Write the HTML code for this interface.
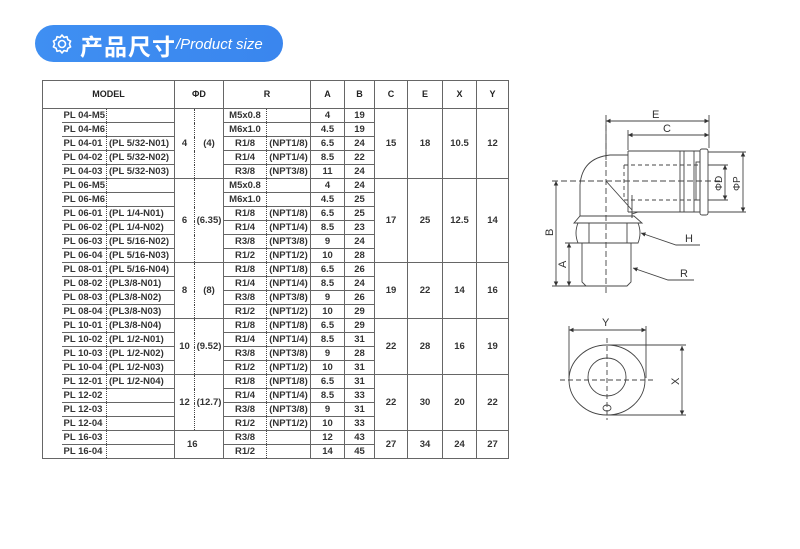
<!DOCTYPE html>
<html><head><meta charset="utf-8"><style>
body{margin:0;width:800px;height:549px;background:#fff;position:relative;overflow:hidden;font-family:"Liberation Sans","Noto Sans CJK SC",sans-serif}
.pill{position:absolute;left:35px;top:25px;width:248px;height:37px;border-radius:19px;background:linear-gradient(90deg,#3f8ff2,#3a86ee);color:#fff}
.pill .cn{position:absolute;left:45px;top:3px;font-size:23px;font-weight:bold;font-family:"Noto Sans CJK SC",sans-serif;letter-spacing:1px}
.pill .en{position:absolute;left:141px;top:11px;font-size:15px;font-style:italic}
table{position:absolute;left:42px;top:80px;border-collapse:collapse;table-layout:fixed;font-size:9.5px;font-weight:bold;color:#333}
td{height:13px;padding:0;border:1px solid #666;text-align:center;white-space:nowrap;line-height:13px;overflow:hidden}
tr.h td{height:27px;font-size:9px;color:#222}
.l{text-align:left;padding-left:2px}
.dr{border-right:1px dotted #444}
.dl{border-left:1px dotted #444}
.m1{border-left:none}
.blank{border-top:none;border-bottom:1px solid #666;border-right:none}
</style></head><body>
<div class="pill">
<svg style="position:absolute;left:16px;top:8px" width="22" height="22" viewBox="0 0 22 22"><path d="M11 2l2 2.5 3-.8.8 3 2.8 1.4-1.2 2.9 1.2 2.9-2.8 1.4-.8 3-3-.8L11 20l-2-2.5-3 .8-.8-3-2.8-1.4 1.2-2.9-1.2-2.9 2.8-1.4.8-3 3 .8z" fill="none" stroke="#fff" stroke-width="1.6" stroke-linejoin="round"/><circle cx="11" cy="11" r="3.5" fill="none" stroke="#fff" stroke-width="1.6"/></svg>
<span class="cn">产品尺寸</span><span class="en">/Product size</span></div>

<table>
<colgroup><col style="width:19px"><col style="width:45px"><col style="width:68px"><col style="width:20px"><col style="width:29px"><col style="width:43px"><col style="width:44px"><col style="width:34px"><col style="width:30px"><col style="width:33px"><col style="width:35px"><col style="width:34px"><col style="width:32px"></colgroup>
<tr class="h"><td colspan="3">MODEL</td><td colspan="2">ΦD</td><td colspan="2">R</td><td>A</td><td>B</td><td>C</td><td>E</td><td>X</td><td>Y</td></tr>
<tr><td rowspan="25" class="blank"></td><td class="l dr m1">PL 04-M5</td><td class="l dl"></td><td rowspan="5" class="dr">4</td><td rowspan="5" class="dl">(4)</td><td class="dr">M5x0.8</td><td class="dl"></td><td>4</td><td>19</td><td rowspan="5">15</td><td rowspan="5">18</td><td rowspan="5">10.5</td><td rowspan="5">12</td></tr>
<tr><td class="l dr m1">PL 04-M6</td><td class="l dl"></td><td class="dr">M6x1.0</td><td class="dl"></td><td>4.5</td><td>19</td></tr>
<tr><td class="l dr m1">PL 04-01</td><td class="l dl">(PL 5/32-N01)</td><td class="dr">R1/8</td><td class="dl">(NPT1/8)</td><td>6.5</td><td>24</td></tr>
<tr><td class="l dr m1">PL 04-02</td><td class="l dl">(PL 5/32-N02)</td><td class="dr">R1/4</td><td class="dl">(NPT1/4)</td><td>8.5</td><td>22</td></tr>
<tr><td class="l dr m1">PL 04-03</td><td class="l dl">(PL 5/32-N03)</td><td class="dr">R3/8</td><td class="dl">(NPT3/8)</td><td>11</td><td>24</td></tr>
<tr><td class="l dr m1">PL 06-M5</td><td class="l dl"></td><td rowspan="6" class="dr">6</td><td rowspan="6" class="dl">(6.35)</td><td class="dr">M5x0.8</td><td class="dl"></td><td>4</td><td>24</td><td rowspan="6">17</td><td rowspan="6">25</td><td rowspan="6">12.5</td><td rowspan="6">14</td></tr>
<tr><td class="l dr m1">PL 06-M6</td><td class="l dl"></td><td class="dr">M6x1.0</td><td class="dl"></td><td>4.5</td><td>25</td></tr>
<tr><td class="l dr m1">PL 06-01</td><td class="l dl">(PL 1/4-N01)</td><td class="dr">R1/8</td><td class="dl">(NPT1/8)</td><td>6.5</td><td>25</td></tr>
<tr><td class="l dr m1">PL 06-02</td><td class="l dl">(PL 1/4-N02)</td><td class="dr">R1/4</td><td class="dl">(NPT1/4)</td><td>8.5</td><td>23</td></tr>
<tr><td class="l dr m1">PL 06-03</td><td class="l dl">(PL 5/16-N02)</td><td class="dr">R3/8</td><td class="dl">(NPT3/8)</td><td>9</td><td>24</td></tr>
<tr><td class="l dr m1">PL 06-04</td><td class="l dl">(PL 5/16-N03)</td><td class="dr">R1/2</td><td class="dl">(NPT1/2)</td><td>10</td><td>28</td></tr>
<tr><td class="l dr m1">PL 08-01</td><td class="l dl">(PL 5/16-N04)</td><td rowspan="4" class="dr">8</td><td rowspan="4" class="dl">(8)</td><td class="dr">R1/8</td><td class="dl">(NPT1/8)</td><td>6.5</td><td>26</td><td rowspan="4">19</td><td rowspan="4">22</td><td rowspan="4">14</td><td rowspan="4">16</td></tr>
<tr><td class="l dr m1">PL 08-02</td><td class="l dl">(PL3/8-N01)</td><td class="dr">R1/4</td><td class="dl">(NPT1/4)</td><td>8.5</td><td>24</td></tr>
<tr><td class="l dr m1">PL 08-03</td><td class="l dl">(PL3/8-N02)</td><td class="dr">R3/8</td><td class="dl">(NPT3/8)</td><td>9</td><td>26</td></tr>
<tr><td class="l dr m1">PL 08-04</td><td class="l dl">(PL3/8-N03)</td><td class="dr">R1/2</td><td class="dl">(NPT1/2)</td><td>10</td><td>29</td></tr>
<tr><td class="l dr m1">PL 10-01</td><td class="l dl">(PL3/8-N04)</td><td rowspan="4" class="dr">10</td><td rowspan="4" class="dl">(9.52)</td><td class="dr">R1/8</td><td class="dl">(NPT1/8)</td><td>6.5</td><td>29</td><td rowspan="4">22</td><td rowspan="4">28</td><td rowspan="4">16</td><td rowspan="4">19</td></tr>
<tr><td class="l dr m1">PL 10-02</td><td class="l dl">(PL 1/2-N01)</td><td class="dr">R1/4</td><td class="dl">(NPT1/4)</td><td>8.5</td><td>31</td></tr>
<tr><td class="l dr m1">PL 10-03</td><td class="l dl">(PL 1/2-N02)</td><td class="dr">R3/8</td><td class="dl">(NPT3/8)</td><td>9</td><td>28</td></tr>
<tr><td class="l dr m1">PL 10-04</td><td class="l dl">(PL 1/2-N03)</td><td class="dr">R1/2</td><td class="dl">(NPT1/2)</td><td>10</td><td>31</td></tr>
<tr><td class="l dr m1">PL 12-01</td><td class="l dl">(PL 1/2-N04)</td><td rowspan="4" class="dr">12</td><td rowspan="4" class="dl">(12.7)</td><td class="dr">R1/8</td><td class="dl">(NPT1/8)</td><td>6.5</td><td>31</td><td rowspan="4">22</td><td rowspan="4">30</td><td rowspan="4">20</td><td rowspan="4">22</td></tr>
<tr><td class="l dr m1">PL 12-02</td><td class="l dl"></td><td class="dr">R1/4</td><td class="dl">(NPT1/4)</td><td>8.5</td><td>33</td></tr>
<tr><td class="l dr m1">PL 12-03</td><td class="l dl"></td><td class="dr">R3/8</td><td class="dl">(NPT3/8)</td><td>9</td><td>31</td></tr>
<tr><td class="l dr m1">PL 12-04</td><td class="l dl"></td><td class="dr">R1/2</td><td class="dl">(NPT1/2)</td><td>10</td><td>33</td></tr>
<tr><td class="l dr m1">PL 16-03</td><td class="l dl"></td><td rowspan="2" colspan="2" style="text-align:left;padding-left:12px">16</td><td class="dr">R3/8</td><td class="dl"></td><td>12</td><td>43</td><td rowspan="2">27</td><td rowspan="2">34</td><td rowspan="2">24</td><td rowspan="2">27</td></tr>
<tr><td class="l dr m1">PL 16-04</td><td class="l dl"></td><td class="dr">R1/2</td><td class="dl"></td><td>14</td><td>45</td></tr>
</table>

<svg style="position:absolute;left:0;top:0" width="800" height="549" viewBox="0 0 800 549" font-family="Liberation Sans,sans-serif" font-size="11" fill="none" stroke="#444" stroke-width="0.9">
<defs><marker id="a" markerWidth="6" markerHeight="6" refX="5" refY="3" orient="auto-start-reverse"><path d="M0,0.5L5,3L0,5.5z" fill="#333" stroke="none"/></marker></defs>
<line x1="606" y1="121" x2="709" y2="121" marker-start="url(#a)" marker-end="url(#a)"/>
<line x1="628" y1="135" x2="709" y2="135" marker-start="url(#a)" marker-end="url(#a)"/>
<line x1="606" y1="115" x2="606" y2="160"/>
<line x1="709" y1="115" x2="709" y2="148"/>
<line x1="628" y1="130" x2="628" y2="150"/>
<text x="652" y="118" fill="#333" stroke="none">E</text>
<text x="663" y="132" fill="#333" stroke="none">C</text>
<path d="M628 151H700V212H628"/>
<rect x="700" y="149" width="8" height="66" rx="2"/>
<line x1="680" y1="151" x2="680" y2="212"/><line x1="684" y1="151" x2="684" y2="212"/><line x1="694" y1="151" x2="694" y2="212"/>
<rect x="696" y="162" width="4" height="38"/>
<line x1="628" y1="151" x2="628" y2="212"/>
<path d="M632 214L638 212"/>
<path d="M628 155H610Q582 158 580 185V216"/>
<path d="M632 212V218"/>
<line x1="632" y1="195" x2="632" y2="218"/>
<path d="M606 181L632 210" />
<path d="M580 216H634L642 223H574Z"/>
<path d="M578 223H638Q642 233 638 243H578Q574 233 578 223Z"/>
<line x1="589" y1="223" x2="589" y2="243"/><line x1="627" y1="223" x2="627" y2="243"/>
<path d="M582 243V282L586 286H627L631 282V243"/>
<line x1="606" y1="125" x2="606" y2="295" stroke-dasharray="6,3"/>
<line x1="552" y1="181" x2="720" y2="181" stroke-dasharray="6,3"/>
<line x1="624" y1="165" x2="700" y2="165" stroke-dasharray="4,3"/>
<line x1="624" y1="200" x2="700" y2="200" stroke-dasharray="4,3"/>
<line x1="624" y1="165" x2="624" y2="200" stroke-dasharray="4,3"/>
<line x1="556" y1="181" x2="556" y2="286" marker-start="url(#a)" marker-end="url(#a)"/>
<line x1="569" y1="243" x2="569" y2="286" marker-start="url(#a)" marker-end="url(#a)"/>
<line x1="552" y1="286" x2="586" y2="286"/>
<line x1="565" y1="243" x2="582" y2="243"/>
<text transform="translate(553,236) rotate(-90)" fill="#333" stroke="none">B</text>
<text transform="translate(566,268) rotate(-90)" fill="#333" stroke="none">A</text>
<line x1="708" y1="165" x2="728" y2="165"/><line x1="708" y1="200" x2="728" y2="200"/>
<line x1="708" y1="152" x2="746" y2="152"/><line x1="708" y1="212" x2="746" y2="212"/>
<line x1="725" y1="165" x2="725" y2="200" marker-start="url(#a)" marker-end="url(#a)"/>
<line x1="743" y1="152" x2="743" y2="212" marker-start="url(#a)" marker-end="url(#a)"/>
<text transform="translate(722,191) rotate(-90)" fill="#333" stroke="none" font-size="10">ΦD</text>
<text transform="translate(740,191) rotate(-90)" fill="#333" stroke="none" font-size="10">ΦP</text>
<path d="M641 233L676 245H700" marker-start="url(#a)"/>
<path d="M633 268L668 280H694" marker-start="url(#a)"/>
<text x="685" y="242" fill="#333" stroke="none">H</text>
<text x="680" y="277" fill="#333" stroke="none">R</text>
<ellipse cx="607" cy="380" rx="38" ry="35"/>
<circle cx="607" cy="377" r="19"/>
<ellipse cx="607" cy="408" rx="4" ry="3"/>
<line x1="607" y1="338" x2="607" y2="420" stroke-dasharray="5,3"/>
<line x1="560" y1="380" x2="654" y2="380" stroke-dasharray="5,3"/>
<line x1="569" y1="330" x2="646" y2="330" marker-start="url(#a)" marker-end="url(#a)"/>
<line x1="569" y1="326" x2="569" y2="378"/><line x1="646" y1="326" x2="646" y2="378"/>
<text x="602" y="326" fill="#333" stroke="none">Y</text>
<line x1="682" y1="346" x2="682" y2="415" marker-start="url(#a)" marker-end="url(#a)"/>
<line x1="607" y1="345" x2="686" y2="345"/><line x1="607" y1="415" x2="686" y2="415"/>
<text transform="translate(679,385) rotate(-90)" fill="#333" stroke="none">X</text>
</svg>
</body></html>
